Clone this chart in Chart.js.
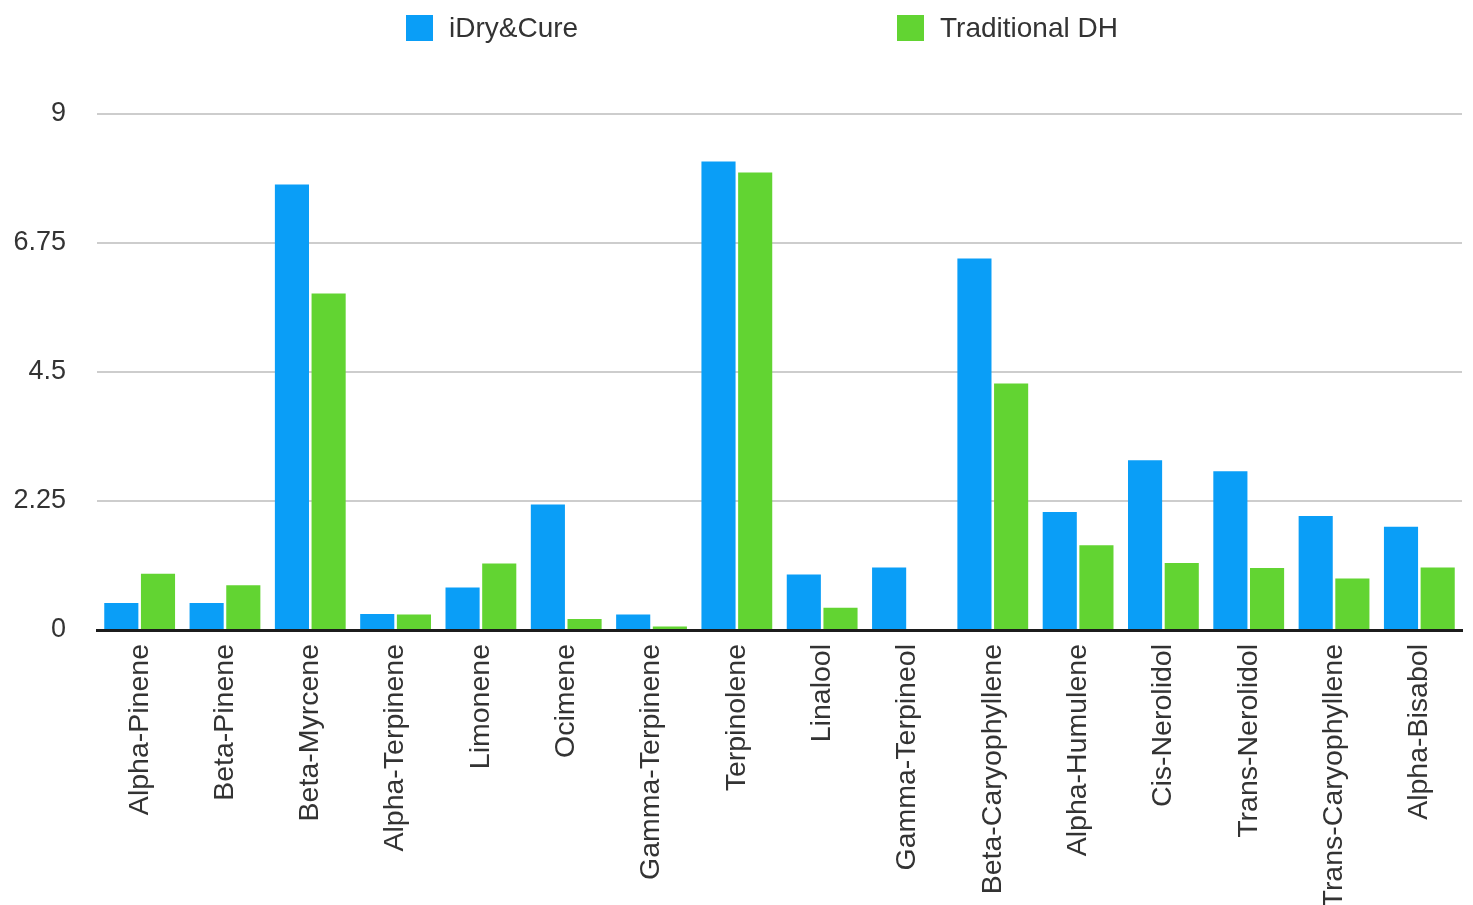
<!DOCTYPE html>
<html>
<head>
    <title>Terpene Comparison</title>
    <script src="https://cdn.jsdelivr.net/npm/chart.js"></script>
    <style>
        body { margin: 0; background: #fff; font-family: "Liberation Sans", Arial, sans-serif; }
        #wrap { position: relative; width: 1473px; height: 905px; }
        .leg { position: absolute; top: 12px; display: flex; align-items: center; font-size: 28px; color: #333; }
        .leg span.box { display: inline-block; width: 27px; height: 26px; margin-right: 16px; }
    </style>
</head>
<body>
    <div id="wrap">
        <div id="legend"></div>
        <canvas id="terpeneChart" width="1473" height="905"></canvas>
    </div>
    <script>
        // chart data
        const terpenes = ['Alpha-Pinene', 'Beta-Pinene', 'Beta-Myrcene', 'Alpha-Terpinene', 'Limonene', 'Ocimene',
            'Gamma-Terpinene', 'Terpinolene', 'Linalool', 'Gamma-Terpineol', 'Beta-Caryophyllene', 'Alpha-Humulene',
            'Cis-Nerolidol', 'Trans-Nerolidol', 'Trans-Caryophyllene', 'Alpha-Bisabol'];
        const seriesNames = ['iDry&Cure', 'Traditional DH'];
        const idryCure = [0.47, 0.47, 7.77, 0.28, 0.74, 2.19, 0.27, 8.17, 0.97, 1.09, 6.48, 2.06, 2.96, 2.77, 1.99, 1.80];
        const traditionalDH = [0.98, 0.78, 5.87, 0.27, 1.16, 0.19, 0.06, 7.98, 0.39, 0, 4.30, 1.48, 1.17, 1.08, 0.90, 1.09];
        const yTicks = [0, 2.25, 4.5, 6.75, 9];

        const colors = ['rgb(10,158,247)', 'rgb(98,212,50)'];

        // html legend, spaced like the original
        const legendLeft = [406, 897];
        const legend = document.getElementById('legend');
        seriesNames.forEach((name, i) => {
            const item = document.createElement('div');
            item.className = 'leg';
            item.style.left = legendLeft[i] + 'px';
            const box = document.createElement('span');
            box.className = 'box';
            box.style.background = colors[i];
            item.appendChild(box);
            item.appendChild(document.createTextNode(name));
            legend.appendChild(item);
        });

        const ctx = document.getElementById('terpeneChart').getContext('2d');
        new Chart(ctx, {
            type: 'bar',
            data: {
                labels: terpenes,
                datasets: [
                    { label: seriesNames[0], data: idryCure, backgroundColor: colors[0] },
                    { label: seriesNames[1], data: traditionalDH, backgroundColor: colors[1] }
                ]
            },
            options: {
                responsive: false,
                animation: false,
                categoryPercentage: 0.86,
                barPercentage: 0.93,
                layout: { padding: { left: 0, right: 11, top: 114, bottom: 0 } },
                plugins: {
                    legend: { display: false },
                    tooltip: { enabled: false }
                },
                scales: {
                    x: {
                        afterFit: axis => { axis.height = 275; },
                        grid: { display: false, drawTicks: false },
                        border: { display: true, color: '#1c1c1c', width: 3 },
                        ticks: {
                            autoSkip: false,
                            maxRotation: 90,
                            minRotation: 90,
                            padding: 14,
                            color: '#333',
                            font: { family: 'Liberation Sans', size: 28.5 }
                        }
                    },
                    y: {
                        min: 0,
                        max: 9,
                        afterBuildTicks: axis => { axis.ticks = yTicks.map(v => ({ value: v })); },
                        afterFit: axis => { axis.width = 97; },
                        grid: { color: '#cdcdcd', lineWidth: 2, drawTicks: false },
                        border: { display: false },
                        ticks: {
                            padding: 31,
                            color: '#333',
                            font: { family: 'Liberation Sans', size: 27 },
                            callback: v => String(v)
                        }
                    }
                }
            }
        });
    </script>
</body>
</html>
